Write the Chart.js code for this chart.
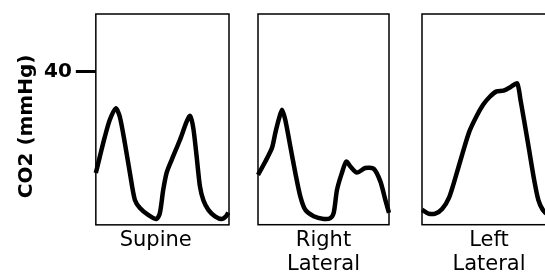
<!DOCTYPE html>
<html>
<head>
<meta charset="utf-8">
<script src="https://cdn.jsdelivr.net/npm/chart.js@4"></script>
<style>
  html, body { margin: 0; padding: 0; background: #fff; overflow: hidden; }
  body { width: 545px; height: 277px; position: relative; }
  canvas { position: absolute; top: 0; }
</style>
</head>
<body>
<canvas id="c1" width="230" height="277" style="left:0"></canvas>
<canvas id="c2" width="135" height="277" style="left:256px"></canvas>
<canvas id="c3" width="140" height="277" style="left:420px"></canvas>
<script>
// time is relative position across each panel (0-100), co2 in mmHg
const supineT   = [0, 3, 6.8, 10.5, 15, 18, 21.8, 25.6, 29.3, 33.1, 39.3, 45.6, 48.1, 50.6, 53.1, 56.9, 63.2, 68.2, 70.7, 73.2, 75.7, 78.2, 80.7, 84.5, 89.5, 94.5, 97.7, 99.5];
const supineCO2 = [13.5, 17.8, 23, 27.4, 30.4, 28.2, 21.3, 13.5, 6.5, 4.4, 2.6, 1.5, 3.1, 9.1, 13.5, 16.9, 22.2, 26.9, 28.4, 25.2, 17.8, 10, 6.5, 3.9, 2.2, 1.5, 2.2, 3.2];

const rightT   = [0, 5.6, 10.7, 13.2, 15.8, 18.3, 20.8, 24.7, 28.5, 32.3, 36.1, 42.5, 50.2, 55.2, 57.8, 60.3, 64.1, 67.4, 70.5, 75.6, 81.9, 88.3, 93.4, 97.2, 100];
const rightCO2 = [13, 16.5, 20.1, 23.9, 27.4, 30, 27.4, 20.4, 13.5, 7.4, 3.9, 2.2, 1.5, 1.7, 3.1, 9.1, 13.6, 16.5, 15.2, 13.6, 14.8, 14.6, 11.3, 6.5, 3.1];

const leftT   = [0, 4.8, 9.9, 15, 20.1, 25.2, 30.3, 35.3, 40.5, 45.6, 50.6, 55.7, 60.8, 65.9, 71, 73.5, 76.1, 79.9, 83.7, 86.8, 90.1, 93.9, 96.9];
const leftCO2 = [3.9, 2.9, 2.9, 4.1, 7, 12.6, 18.7, 24.3, 28.2, 31.3, 33.4, 34.8, 35, 35.9, 36.9, 32.6, 27.4, 19.6, 11.7, 6.5, 3.9, 2.6, 2.1];

const yTicks = [40];
const yMin = 0, yMax = 55;

const boxPlugin = {
    id: 'box',
    afterDraw(chart) {
        const a = chart.chartArea, ctx = chart.ctx;
        ctx.save();
        ctx.strokeStyle = '#000';
        ctx.lineWidth = 1.5;
        ctx.strokeRect(a.left, a.top, a.right - a.left, a.bottom - a.top);
        ctx.restore();
    }
};

function makePanel(id, times, values, title, showY, pad) {
    const ctx = document.getElementById(id).getContext('2d');
    return new Chart(ctx, {
        type: 'line',
        data: {
            datasets: [{
                data: times.map((t, i) => ({ x: t, y: values[i] })),
                borderColor: '#000',
                borderWidth: 4.5,
                pointRadius: 0,
                tension: 0.25,
                fill: false,
                clip: 3
            }]
        },
        options: {
            responsive: false,
            animation: false,
            layout: { padding: pad },
            plugins: { legend: { display: false }, tooltip: { enabled: false } },
            scales: {
                x: {
                    type: 'linear', min: 0, max: 100,
                    ticks: { display: false },
                    grid: { display: false, drawTicks: false },
                    border: { display: false },
                    title: {
                        display: true, text: title, color: '#000',
                        font: { family: 'DejaVu Sans', size: 21, lineHeight: 1.15 },
                        padding: { top: 4, bottom: 0 }
                    }
                },
                y: {
                    display: showY,
                    min: yMin, max: yMax,
                    afterBuildTicks: s => { s.ticks = yTicks.map(v => ({ value: v })); },
                    ticks: {
                        color: '#000', padding: 4,
                        font: { family: 'DejaVu Sans', size: 20, weight: 'bold', lineHeight: 1 }
                    },
                    grid: {
                        drawOnChartArea: false, drawTicks: true,
                        tickLength: 20, tickWidth: 3, tickColor: '#000'
                    },
                    border: { display: false },
                    title: {
                        display: true, text: 'CO2 (mmHg)  ', color: '#000',
                        font: { family: 'DejaVu Sans', size: 20, weight: 'bold' },
                        padding: { top: 0, bottom: 1 }
                    }
                }
            }
        },
        plugins: [boxPlugin]
    });
}

makePanel('c1', supineT, supineCO2, 'Supine  ', true, { top: 14, left: 15, right: 1, bottom: 24 });
makePanel('c2', rightT, rightCO2, ['Right', 'Lateral'], false, { top: 14, left: 2, right: 2, bottom: 0 });
makePanel('c3', leftT, leftCO2, ['Left', 'Lateral'], false, { top: 14, left: 2, right: 4, bottom: 0 });
</script>
</body>
</html>
